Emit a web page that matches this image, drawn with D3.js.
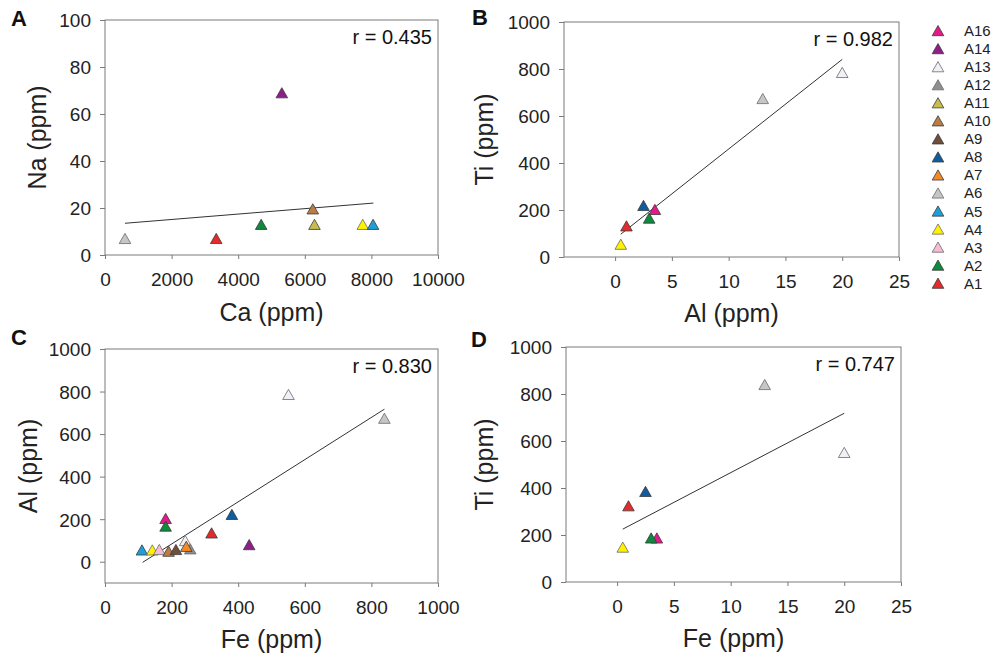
<!DOCTYPE html>
<html>
<head>
<meta charset="utf-8">
<script src="https://cdn.jsdelivr.net/npm/d3@7"></script>
<style>
  html, body { margin: 0; padding: 0; background: #ffffff; }
  svg { display: block; font-family: "Liberation Sans", Arial, sans-serif; }
</style>
</head>
<body>
<svg id="chart" width="995" height="658"></svg>
<script>
// Sample legend (top to bottom) and fill colours
const samples = ['A16','A14','A13','A12','A11','A10','A9','A8','A7','A6','A5','A4','A3','A2','A1'];
const sampleColors = ['#e6198a','#8e1f8a','#f2f0f6','#8f8f8f','#c8bc4e','#bb7d45','#6e4e3c',
                      '#0f5c9e','#f28a26','#c6c6c6','#1e9fd8','#fff200','#f6bcd4','#0d8a3e','#e32b2b'];

// Panel A: Ca vs Na
const idsA = ['A6','A1','A2','A14','A10','A11','A4','A5'];
const caA  = [600, 3340, 4690, 5310, 6240, 6290, 7740, 8050];
const naA  = [7, 7, 13, 69, 19.6, 13, 13, 13];
const trendAx = [600, 8060];
const trendAy = [13.5, 22.1];

// Panel B: Al vs Ti
const idsB = ['A4','A1','A8','A2','A16','A6','A13'];
const alB  = [0.5, 1, 2.5, 3, 3.5, 13, 20];
const tiB  = [54, 132, 219, 165, 202, 674, 785];
const trendBx = [0.5, 20];
const trendBy = [97, 841];

// Panel C: Fe vs Al
const idsC = ['A5','A4','A3','A10','A9','A13','A12','A7','A16','A2','A1','A8','A14','A13','A6'];
const feC  = [111, 142, 163, 191, 213, 241, 256, 244, 182, 182, 320, 381, 433, 551, 839];
const alC  = [55, 55, 57, 49, 57, 99, 60, 72, 203, 167, 135, 222, 80, 786, 674];
const trendCx = [113, 839];
const trendCy = [-3, 717];

// Panel D: Fe vs Ti
const idsD = ['A4','A1','A8','A16','A2','A6','A13'];
const feD  = [0.5, 1, 2.5, 3.5, 3, 13, 20];
const tiD  = [148, 324, 385, 187, 187, 840, 551];
const trendDx = [0.5, 20];
const trendDy = [225, 718];

// Tick values
const ticksCa = [0, 2000, 4000, 6000, 8000, 10000];
const ticksNa = [0, 20, 40, 60, 80, 100];
const ticks25 = [0, 5, 10, 15, 20, 25];
const ticks1000 = [0, 200, 400, 600, 800, 1000];

const colorOf = d3.scaleOrdinal().domain(samples).range(sampleColors);
const svg = d3.select('#chart');

const tri = 'M0,-5.2L5.8,5L-5.8,5Z';
const lightSet = new Set(['A13','A6','A12','A3','A4']);

const panels = [
  { letter: 'A', lx: 11, ly: 26, box: [105, 438, 20, 255], xd: [0, 10000], yd: [0, 100],
    xt: ticksCa, yt: ticksNa, ids: idsA, xs: caA, ys: naA, tx: trendAx, ty: trendAy,
    r: 'r = 0.435', xlab: 'Ca (ppm)', ylab: 'Na (ppm)', ylx: 37, xly: 321 },
  { letter: 'B', lx: 472, ly: 25, box: [564, 899, 22, 257], xd: [-4.5, 25], yd: [0, 1000],
    xt: ticks25, yt: ticks1000, ids: idsB, xs: alB, ys: tiB, tx: trendBx, ty: trendBy,
    r: 'r = 0.982', xlab: 'Al (ppm)', ylab: 'Ti (ppm)', ylx: 484, xly: 322 },
  { letter: 'C', lx: 11, ly: 345, box: [105, 438, 349, 583], xd: [0, 1000], yd: [-100, 1000],
    xt: ticks1000, yt: ticks1000, ids: idsC, xs: feC, ys: alC, tx: trendCx, ty: trendCy,
    r: 'r = 0.830', xlab: 'Fe (ppm)', ylab: 'Al (ppm)', ylx: 28, xly: 648 },
  { letter: 'D', lx: 471, ly: 347, box: [566, 901, 347, 582], xd: [-4.5, 25], yd: [0, 1000],
    xt: ticks25, yt: ticks1000, ids: idsD, xs: feD, ys: tiD, tx: trendDx, ty: trendDy,
    r: 'r = 0.747', xlab: 'Fe (ppm)', ylab: 'Ti (ppm)', ylx: 484, xly: 647 }
];

panels.forEach(p => {
  const [x0, x1, y0, y1] = p.box;
  const x = d3.scaleLinear().domain(p.xd).range([x0, x1]);
  const y = d3.scaleLinear().domain(p.yd).range([y1, y0]);
  const g = svg.append('g');

  // x axis
  const gx = g.append('g').attr('transform', `translate(0,${y1})`)
    .call(d3.axisBottom(x).tickValues(p.xt).tickFormat(d3.format('d')).tickSize(4).tickPadding(14).tickSizeOuter(0));
  // y axis
  const gy = g.append('g').attr('transform', `translate(${x0},0)`)
    .call(d3.axisLeft(y).tickValues(p.yt).tickFormat(d3.format('d')).tickSize(5).tickPadding(9).tickSizeOuter(0));
  [gx, gy].forEach(a => {
    a.select('.domain').remove();
    a.selectAll('line').attr('stroke', '#7a7a7a');
    a.selectAll('text').attr('font-size', 19).attr('fill', '#222')
      .attr('font-family', '"Liberation Sans", Arial, sans-serif');
  });
  gy.selectAll('text').attr('dy', '0.36em');

  // plot frame
  g.append('rect').attr('x', x0).attr('y', y0).attr('width', x1 - x0).attr('height', y1 - y0)
    .attr('fill', 'none').attr('stroke', '#7a7a7a').attr('stroke-width', 1);

  // regression line
  g.append('line')
    .attr('x1', x(p.tx[0])).attr('y1', y(p.ty[0]))
    .attr('x2', x(p.tx[1])).attr('y2', y(p.ty[1]))
    .attr('stroke', '#333').attr('stroke-width', 1);

  // points
  g.selectAll('path.pt').data(p.ids.map((id, i) => ({ id, vx: p.xs[i], vy: p.ys[i] })))
    .join('path').attr('class', 'pt')
    .attr('d', tri)
    .attr('transform', d => `translate(${x(d.vx)},${y(d.vy)})`)
    .attr('fill', d => colorOf(d.id))
    .attr('stroke', d => lightSet.has(d.id) ? '#6a6a6a' : '#3a3a3a')
    .attr('stroke-width', 0.8);

  // correlation coefficient
  g.append('text').attr('x', x1 - 6).attr('y', y0 + 24).attr('text-anchor', 'end')
    .attr('font-size', 20).attr('fill', '#111').text(p.r);

  // panel letter
  g.append('text').attr('x', p.lx).attr('y', p.ly).attr('font-size', 22)
    .attr('font-weight', 'bold').attr('fill', '#111').text(p.letter);

  // axis titles
  g.append('text').attr('x', (x0 + x1) / 2).attr('y', p.xly).attr('text-anchor', 'middle')
    .attr('font-size', 25).attr('fill', '#222').text(p.xlab);
  g.append('text')
    .attr('transform', `translate(${p.ylx},${(y0 + y1) / 2}) rotate(-90)`)
    .attr('text-anchor', 'middle').attr('dy', '0.35em')
    .attr('font-size', 25).attr('fill', '#222').text(p.ylab);
});

// legend
const ly = d3.scalePoint().domain(samples).range([30.7, 283.3]);
const leg = svg.append('g');
leg.selectAll('path').data(samples).join('path')
  .attr('d', tri)
  .attr('transform', d => `translate(938,${ly(d)})`)
  .attr('fill', d => colorOf(d))
  .attr('stroke', d => lightSet.has(d) ? '#6a6a6a' : '#3a3a3a')
  .attr('stroke-width', 0.8);
leg.selectAll('text').data(samples).join('text')
  .attr('x', 964).attr('y', d => ly(d)).attr('dy', '0.36em')
  .attr('font-size', 15).attr('fill', '#222').text(d => d);
</script>
</body>
</html>
